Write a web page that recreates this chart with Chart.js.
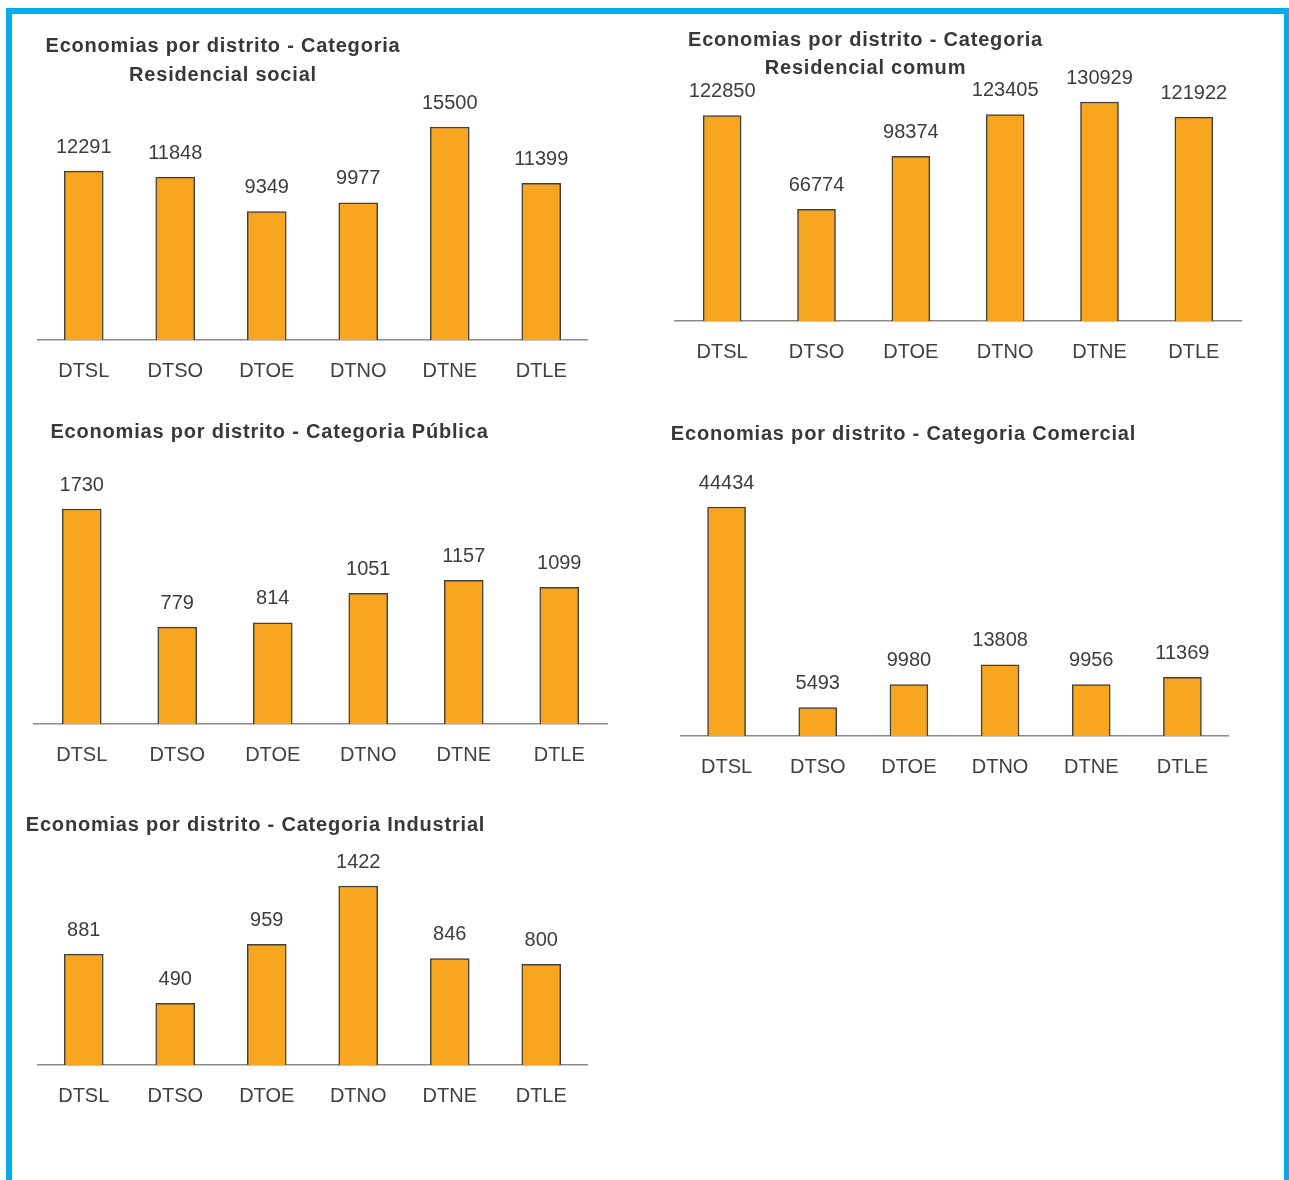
<!DOCTYPE html>
<html>
<head>
<meta charset="utf-8">
<script src="https://cdn.jsdelivr.net/npm/chart.js@4"></script>
<style>
  body { margin: 0; background: #fff; overflow: hidden; width: 1289px; height: 1180px; position: relative; }
  #frame { position: absolute; left: 6px; top: 8px; width: 1284px; height: 1200px; border: 6px solid #00aeef; box-sizing: border-box; border-bottom: none; }
  canvas { position: absolute; }
</style>
</head>
<body>
<div id="frame"></div>
<canvas id="c1" width="620" height="361" style="left:15px;top:20px"></canvas>
<canvas id="c2" width="620" height="342" style="left:650px;top:20px"></canvas>
<canvas id="c3" width="620" height="355" style="left:15px;top:410px"></canvas>
<canvas id="c4" width="620" height="367" style="left:650px;top:410px"></canvas>
<canvas id="c5" width="620" height="306" style="left:15px;top:800px"></canvas>
<script>
// distritos
var districts = ['DTSL', 'DTSO', 'DTOE', 'DTNO', 'DTNE', 'DTLE'];

// economias por categoria
var residencialSocial = [12291, 11848, 9349, 9977, 15500, 11399];
var residencialComum = [122850, 66774, 98374, 123405, 130929, 121922];
var publica = [1730, 779, 814, 1051, 1157, 1099];
var comercial = [44434, 5493, 9980, 13808, 9956, 11369];
var industrial = [881, 490, 959, 1422, 846, 800];

var titleRS = ['Economias por distrito - Categoria', 'Residencial social'];
var titleRC = ['Economias por distrito - Categoria', 'Residencial comum'];
var titlePU = ['Economias por distrito - Categoria Pública'];
var titleCO = ['Economias por distrito - Categoria Comercial'];
var titleIN = ['Economias por distrito - Categoria Industrial'];

var FONT = '"Liberation Sans", Arial, sans-serif';

// titulo centrado num ponto fixo + valores acima das barras
var labelsPlugin = {
    id: 'labelsPlugin',
    afterDatasetsDraw: function (chart) {
        var ctx = chart.ctx;
        var o = chart.options.plugins.labelsPlugin;
        ctx.save();
        ctx.fillStyle = '#3d3d3d';
        ctx.font = '20px ' + FONT;
        ctx.textAlign = 'center';
        ctx.textBaseline = 'middle';
        var meta = chart.getDatasetMeta(0);
        meta.data.forEach(function (bar, i) {
            ctx.fillText(String(chart.data.datasets[0].data[i]), bar.x, bar.y - 24);
        });
        ctx.font = 'bold 20px ' + FONT;
        ctx.letterSpacing = '0.8px';
        ctx.fillStyle = '#383838';
        o.lines.forEach(function (line, i) {
            ctx.fillText(line, o.x, o.y + i * o.lineGap);
        });
        ctx.restore();
    }
};

function makeChart(id, values, title, cfg) {
    var canvas = document.getElementById(id);
    var left = parseFloat(canvas.style.left), top = parseFloat(canvas.style.top);
    var chartTop = cfg.axisY - cfg.maxPx * cfg.yMax / Math.max.apply(null, values);
    return new Chart(canvas.getContext('2d'), {
        type: 'bar',
        data: {
            labels: districts,
            datasets: [{
                data: values,
                backgroundColor: '#f8a61f',
                borderColor: '#404040',
                borderWidth: 1.5,
                barThickness: cfg.barW
            }]
        },
        options: {
            responsive: false,
            animation: false,
            layout: {
                padding: {
                    left: cfg.plotL - left,
                    right: left + canvas.width - cfg.plotR,
                    top: chartTop - top,
                    bottom: 0
                }
            },
            plugins: {
                legend: { display: false },
                tooltip: { enabled: false },
                labelsPlugin: { lines: title, x: cfg.titleX - left, y: cfg.titleY - top, lineGap: cfg.lineGap || 29 }
            },
            scales: {
                x: {
                    grid: { display: false, drawTicks: false },
                    border: { display: true, color: '#8a8a8a', width: 1.5 },
                    ticks: { color: '#404040', padding: 19, font: { size: 20, family: FONT } },
                    afterFit: function (s) { s.height = 41; }
                },
                y: { display: false, min: 0, max: cfg.yMax }
            }
        },
        plugins: [labelsPlugin]
    });
}

makeChart('c1', residencialSocial, titleRS, { axisY: 340, maxPx: 213, yMax: 18000, plotL: 38, plotR: 587, barW: 39, titleX: 223, titleY: 46, lineGap: 29 });
makeChart('c2', residencialComum, titleRC, { axisY: 321, maxPx: 219, yMax: 150000, plotL: 675, plotR: 1241, barW: 38, titleX: 865.5, titleY: 40, lineGap: 28 });
makeChart('c3', publica, titlePU, { axisY: 724, maxPx: 215, yMax: 2000, plotL: 34, plotR: 607, barW: 39, titleX: 269.5, titleY: 432 });
makeChart('c4', comercial, titleCO, { axisY: 736, maxPx: 229, yMax: 50000, plotL: 681, plotR: 1228, barW: 38, titleX: 903.5, titleY: 434 });
makeChart('c5', industrial, titleIN, { axisY: 1065, maxPx: 179, yMax: 1600, plotL: 38, plotR: 587, barW: 39, titleX: 255.5, titleY: 825 });
</script>
</body>
</html>
